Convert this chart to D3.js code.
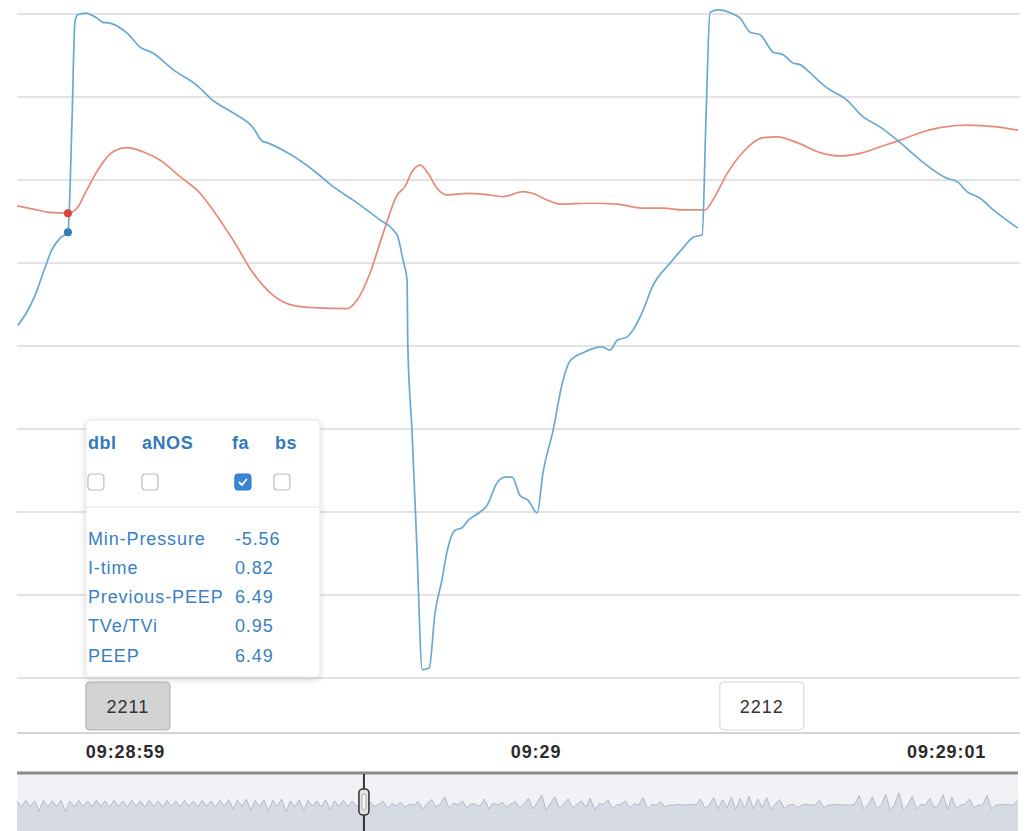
<!DOCTYPE html>
<html>
<head>
<meta charset="utf-8">
<script src="https://cdn.jsdelivr.net/npm/d3@7"></script>
<style>
  body { margin: 0; background: #fff; }
  svg text { font-family: "Liberation Sans", Arial, Helvetica, sans-serif; }
</style>
</head>
<body>
<svg id="chart" width="1035" height="831"></svg>
<script>
// ---- waveform samples: [ms after 09:28:59.000, value] ----
const flow = [
  [-261,2.5],[-239,4.1],[-219,6.1],[-195,9.4],[-178,11.6],[-158,13.0],[-139,13.7],
  [-129,27.2],[-122,39.0],[-115,39.9],[-97,40.1],[-68,39.5],[-54,39.0],[-37,38.9],
  [5,37.7],[37,36.0],[68,35.3],[117,33.3],[175,31.4],[214,29.6],[263,28.1],
  [312,26.3],[334,24.7],[346,24.5],[395,23.3],[458,21.2],[507,19.2],[555,17.6],
  [621,15.2],[653,14.0],[665,13.1],[677,10.4],[687,8.0],[689,-0.1],[699,-10.1],
  [711,-24.2],[724,-39.0],[741,-38.8],[755,-32.2],[772,-28.2],[784,-24.9],[804,-22.2],
  [821,-21.9],[836,-21.0],[865,-20.0],[882,-19.2],[906,-16.5],[926,-15.8],[943,-15.8],
  [962,-18.0],[982,-18.6],[1004,-20.1],[1018,-15.3],[1043,-10.1],[1065,-4.5],[1084,-1.8],
  [1116,-0.8],[1162,-0.1],[1181,-0.5],[1199,0.7],[1223,1.1],[1262,4.3],[1284,7.1],
  [1328,10.0],[1359,11.8],[1384,13.1],[1406,13.4],[1415,27.2],[1425,40.2],[1445,40.5],
  [1481,40.0],[1498,39.5],[1523,37.8],[1547,37.5],[1579,35.4],[1603,35.1],[1627,34.1],
  [1644,33.9],[1669,32.9],[1693,31.8],[1710,31.1],[1759,29.6],[1798,27.6],[1839,26.4],
  [1881,24.8],[1937,22.4],[2002,20.2],[2027,19.8],[2051,18.6],[2083,17.8],[2115,16.4],
  [2175,14.2]
];

const pressure = [
  [-263,16.9],[-224,16.5],[-183,16.1],[-139,16.0],[-117,16.6],[-93,18.8],[-61,21.6],
  [-29,23.4],[5,23.9],[44,23.4],[85,22.4],[134,20.4],[183,18.4],[214,16.4],
  [263,12.8],[312,8.8],[361,6.1],[409,4.9],[468,4.6],[541,4.5],[565,5.5],
  [597,8.8],[629,13.6],[663,18.2],[682,19.2],[699,21.0],[719,21.8],[738,20.8],
  [760,19.0],[784,18.2],[833,18.4],[872,18.3],[921,18.0],[970,18.6],[992,18.4],
  [1028,17.6],[1060,17.1],[1133,17.2],[1199,17.1],[1262,16.6],[1311,16.6],[1359,16.4],
  [1413,16.4],[1432,17.6],[1467,20.8],[1506,23.4],[1554,25.1],[1588,25.2],[1637,24.5],
  [1693,23.3],[1742,22.9],[1798,23.3],[1839,24.0],[1888,24.8],[1937,25.7],[1985,26.3],
  [2051,26.6],[2124,26.4],[2175,26.0]
];

// breaths in view and the start of the selected breath
const breathIds = [2211, 2212];
const breathStartMs = [-139, 1405];
const selectedBreath = 2211;

// value grid and time ticks (ms after 09:28:59.000)
const gridValues = [-40, -30, -20, -10, 0, 10, 20, 30, 40];
const timeTicksMs = [0, 1000, 2000];

// annotation panel for the selected breath
const flagNames = ["dbl", "aNOS", "fa", "bs"];
const flagChecked = [false, false, true, false];
const metricNames = ["Min-Pressure", "I-time", "Previous-PEEP", "TVe/TVi", "PEEP"];
const metricValues = ["-5.56", "0.82", "6.49", "0.95", "6.49"];

// overview strip: flow over the whole recording (evenly spaced samples)
const overview = [
  6,-3,7,-2,6,-9,7,-3,6,-2,7,-10,6,-3,7,-2,6,-3,7,-2,6,-3,7,-2,6,-3,7,-2,6,-3,7,-2,6,-3,7,-2,6,-3,7,-2,
  6,-3,7,-2,6,-3,7,-2,8,-6,7,-2,9,-8,7,-3,8,-9,7,-2,9,-10,6,-3,8,-8,7,-2,6,-3,8,-7,6,-2,7,-3,6,-2,
  3,-4,5,-2,1,6,-5,2,-1,4,-3,1,0,5,-6,2,8,
  -3,2,12,-5,3,0,6,-4,2,1,-2,9,-6,3,0,4,-3,1,5,-4,2,
  10,-6,4,15,-8,3,12,-5,2,9,-4,1,6,-3,10,-7,2,1,8,-5,0,1,6,-4,2,0,11,-6,1,0,5,-3,
  0,0,1,0,0,1,0,
  9,-5,0,11,-6,8,-4,12,-7,10,-5,13,-6,9,-4,11,-7,2,8,-5,0,1,-4,
  0,1,0,0,7,-4,0,0,1,0,0,0,1,
  14,-6,0,12,-5,0,16,-8,1,18,-7,0,13,-6,1,0,10,-4,0,15,-7,12,-5,0,1,9,-4,0,0,14,-6,0,0,1,0,0,8
];
const overviewStart = new Date(2020, 0, 1, 9, 28, 0);
const overviewEnd = new Date(2020, 0, 1, 9, 30, 53);

// ---------------------------------------------------------------
const base = new Date(2020, 0, 1, 9, 28, 59);
const at = ms => new Date(base.getTime() + ms);

const svg = d3.select("#chart");
const left = 17, right = 1020;

const x = d3.scaleTime().domain([at(-263), at(2180)]).range([left, right]);
const y = d3.scaleLinear().domain([-40, 40]).range([678, 14]);

const defs = svg.append("defs");
defs.append("clipPath").attr("id", "plot-clip")
  .append("rect").attr("x", left).attr("y", 0).attr("width", right - left).attr("height", 690);
const shadow = defs.append("filter").attr("id", "panel-shadow")
  .attr("x", "-10%").attr("y", "-10%").attr("width", "130%").attr("height", "130%");
shadow.append("feDropShadow").attr("dx", 0).attr("dy", 2).attr("stdDeviation", 3)
  .attr("flood-color", "#000").attr("flood-opacity", 0.16);

// horizontal grid
svg.append("g").attr("class", "grid")
  .selectAll("line").data(gridValues).join("line")
  .attr("x1", left).attr("x2", right)
  .attr("y1", d => y(d)).attr("y2", d => y(d))
  .attr("stroke", "#e3e3e3").attr("stroke-width", 2.2);

// waveforms
const lineGen = d3.line()
  .x(d => x(at(d[0]))).y(d => y(d[1]))
  .curve(d3.curveMonotoneX);

const plot = svg.append("g").attr("clip-path", "url(#plot-clip)");
plot.append("path").datum(pressure)
  .attr("fill", "none").attr("stroke", "#e48a7b").attr("stroke-width", 1.7)
  .attr("d", lineGen);
plot.append("path").datum(flow)
  .attr("fill", "none").attr("stroke", "#6aa8d1").attr("stroke-width", 1.7)
  .attr("d", lineGen);

// markers at the start of the selected breath
const selStart = breathStartMs[breathIds.indexOf(selectedBreath)];
const pAt = pressure.find(d => d[0] === selStart);
const fAt = flow.find(d => d[0] === selStart);
svg.append("circle").attr("cx", x(at(pAt[0]))).attr("cy", y(pAt[1])).attr("r", 4)
  .attr("fill", "#d8443a");
svg.append("circle").attr("cx", x(at(fAt[0]))).attr("cy", y(fAt[1])).attr("r", 4)
  .attr("fill", "#2f7cb8");

// breath label strip
svg.append("line").attr("x1", left).attr("x2", right).attr("y1", 733).attr("y2", 733)
  .attr("stroke", "#d4d4d4").attr("stroke-width", 2);

const breathG = svg.append("g").selectAll("g")
  .data(breathIds.map((id, i) => ({ id, t: breathStartMs[i] })))
  .join("g")
  .attr("transform", d => `translate(${x(at(d.t)) + 18},682)`);
breathG.append("rect")
  .attr("width", 84).attr("height", 48).attr("rx", 4)
  .attr("fill", d => d.id === selectedBreath ? "#d3d3d3" : "#fff")
  .attr("stroke", d => d.id === selectedBreath ? "#b3b3b3" : "#d9d9d9")
  .attr("stroke-width", 1.2);
breathG.append("text")
  .attr("x", 42).attr("y", 30.5).attr("text-anchor", "middle")
  .attr("font-size", 18).attr("letter-spacing", 1).attr("fill", "#333")
  .text(d => d.id);

// time axis
const fmtSec = d3.timeFormat("%H:%M:%S"), fmtMin = d3.timeFormat("%H:%M");
const xAxis = d3.axisBottom(x)
  .tickValues(timeTicksMs.map(at))
  .tickSize(0)
  .tickFormat(d => d.getSeconds() === 0 ? fmtMin(d) : fmtSec(d));
const axisG = svg.append("g").attr("transform", "translate(0,735)").call(xAxis);
axisG.select(".domain").remove();
axisG.selectAll("text")
  .attr("y", 10).attr("dy", "0.71em")
  .attr("font-size", 18).attr("font-weight", "bold").attr("letter-spacing", 0.9)
  .attr("fill", "#2b2b2b")
  .style("font-family", "'Liberation Sans', Arial, sans-serif");

// annotation panel
const px = x(at(selStart)) + 18, py = 420;
const panel = svg.append("g").attr("transform", `translate(${px},${py})`);
panel.append("rect").attr("width", 234).attr("height", 257).attr("rx", 4)
  .attr("fill", "#fff").attr("stroke", "#e6e6e6").attr("filter", "url(#panel-shadow)");
const colX = [2, 56, 146, 189];
const boxX = [2, 56, 149, 188];
panel.selectAll("text.flag").data(flagNames).join("text")
  .attr("class", "flag")
  .attr("x", (d, i) => colX[i]).attr("y", 29)
  .attr("font-size", 18).attr("font-weight", "bold").attr("letter-spacing", 0.6)
  .attr("fill", "#3479b8").text(d => d);
const boxes = panel.selectAll("g.box").data(flagChecked).join("g")
  .attr("class", "box")
  .attr("transform", (d, i) => `translate(${boxX[i]},54)`);
boxes.append("rect").attr("width", 16).attr("height", 16).attr("rx", 3.5)
  .attr("fill", d => d ? "#3b84d8" : "#fff")
  .attr("stroke", d => d ? "#2f74c4" : "#bcbcbc").attr("stroke-width", 1.2);
boxes.filter(d => d).append("path")
  .attr("d", "M4.5 8.5 L7 11 L11.5 5.5")
  .attr("fill", "none").attr("stroke", "#fff").attr("stroke-width", 1.8)
  .attr("stroke-linecap", "round").attr("stroke-linejoin", "round");
panel.append("line").attr("x1", 0).attr("x2", 234).attr("y1", 87).attr("y2", 87)
  .attr("stroke", "#ececec").attr("stroke-width", 1.5);
const rows = panel.selectAll("g.row").data(metricNames).join("g")
  .attr("class", "row")
  .attr("transform", (d, i) => `translate(0,${124.5 + i * 29.3})`);
rows.append("text").attr("x", 2)
  .attr("font-size", 18).attr("letter-spacing", 0.9).attr("fill", "#3a80c0")
  .text(d => d);
rows.append("text").attr("x", 149)
  .attr("font-size", 18).attr("letter-spacing", 0.9).attr("fill", "#3a80c0")
  .text((d, i) => metricValues[i]);

// overview strip with the current-window handle
const cx = d3.scaleTime().domain([overviewStart, overviewEnd]).range([left, 1018]);
const cy = d3.scaleLinear().domain([-40, 40]).range([832, 778]);
const stepMs = (overviewEnd - overviewStart) / (overview.length - 1);
const ovData = overview.map((v, i) => [new Date(overviewStart.getTime() + i * stepMs), v]);

const ctx = svg.append("g");
ctx.append("rect").attr("x", left).attr("y", 774).attr("width", 1018 - left).attr("height", 60)
  .attr("fill", "#f1f2f5");
ctx.append("path").datum(ovData)
  .attr("fill", "#d6dae3")
  .attr("d", d3.area().x(d => cx(d[0])).y0(834).y1(d => cy(d[1])));
ctx.append("path").datum(ovData)
  .attr("fill", "none").attr("stroke", "#b3bbca").attr("stroke-width", 1)
  .attr("d", d3.line().x(d => cx(d[0])).y(d => cy(d[1])));
ctx.append("line").attr("x1", left).attr("x2", 1018).attr("y1", 773).attr("y2", 773)
  .attr("stroke", "#8c8c8c").attr("stroke-width", 3);

const [v0, v1] = x.domain();
const hx = cx(new Date((v0.getTime() + v1.getTime()) / 2));
const handle = ctx.append("g").attr("transform", `translate(${hx},0)`);
handle.append("line").attr("x1", 0).attr("x2", 0).attr("y1", 774).attr("y2", 831)
  .attr("stroke", "#333").attr("stroke-width", 2);
handle.append("rect").attr("x", -5).attr("y", 789).attr("width", 10).attr("height", 26).attr("rx", 4)
  .attr("fill", "#e4e4e4").attr("stroke", "#3a3a3a").attr("stroke-width", 1.6);
handle.append("rect").attr("x", -2).attr("y", 794).attr("width", 4).attr("height", 16).attr("rx", 2)
  .attr("fill", "#f6f6f6").attr("stroke", "#9a9a9a").attr("stroke-width", 0.8);
</script>
</body>
</html>
